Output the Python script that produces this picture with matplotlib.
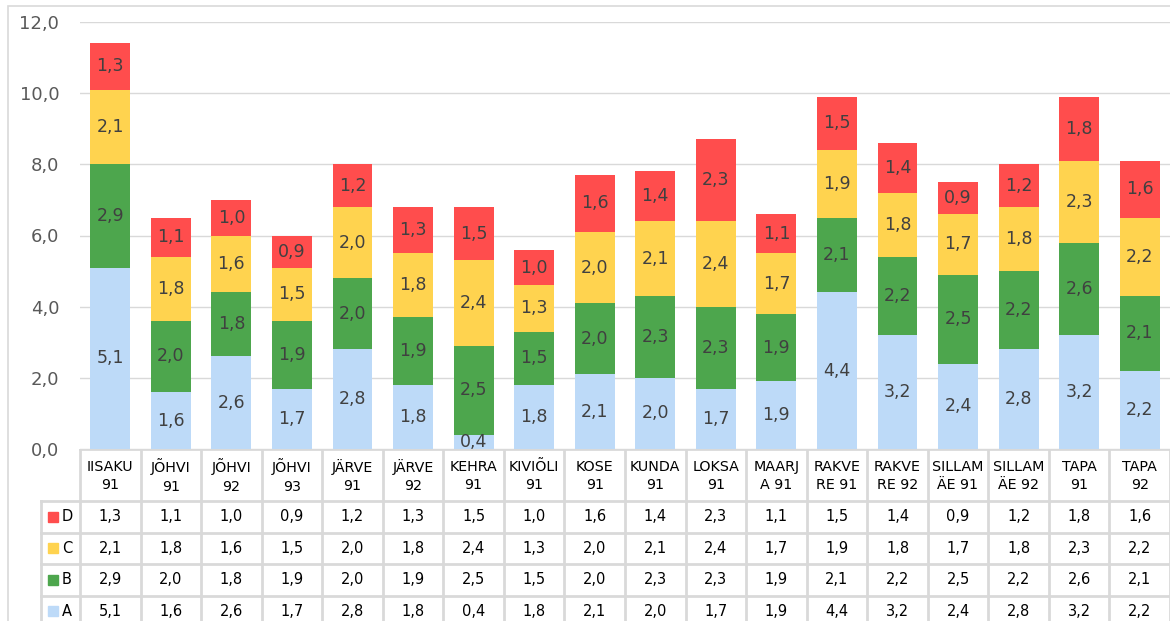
import numpy as np
from matplotlib import pyplot as plt
from matplotlib.patches import Rectangle

categories = ["IISAKU\n91", "JÕHVI\n91", "JÕHVI\n92", "JÕHVI\n93", "JÄRVE\n91",
              "JÄRVE\n92", "KEHRA\n91", "KIVIÕLI\n91", "KOSE\n91", "KUNDA\n91",
              "LOKSA\n91", "MAARJ\nA 91", "RAKVE\nRE 91", "RAKVE\nRE 92",
              "SILLAM\nÄE 91", "SILLAM\nÄE 92", "TAPA\n91", "TAPA\n92"]
a_vals = [5.1, 1.6, 2.6, 1.7, 2.8, 1.8, 0.4, 1.8, 2.1, 2.0, 1.7, 1.9, 4.4, 3.2, 2.4, 2.8, 3.2, 2.2]
b_vals = [2.9, 2.0, 1.8, 1.9, 2.0, 1.9, 2.5, 1.5, 2.0, 2.3, 2.3, 1.9, 2.1, 2.2, 2.5, 2.2, 2.6, 2.1]
c_vals = [2.1, 1.8, 1.6, 1.5, 2.0, 1.8, 2.4, 1.3, 2.0, 2.1, 2.4, 1.7, 1.9, 1.8, 1.7, 1.8, 2.3, 2.2]
d_vals = [1.3, 1.1, 1.0, 0.9, 1.2, 1.3, 1.5, 1.0, 1.6, 1.4, 2.3, 1.1, 1.5, 1.4, 0.9, 1.2, 1.8, 1.6]
series_names = ["A", "B", "C", "D"]
yticks = [0, 2, 4, 6, 8, 10, 12]

colors = {"A": "#BDDAF8", "B": "#4DA64D", "C": "#FFD34F", "D": "#FF4D4D"}
grid_c = "#D9D9D9"
text_c = "#404040"

W, H = 1170, 621
fig = plt.figure(figsize=(W / 100, H / 100), dpi=100)
plt.rcParams['font.family'] = ['DejaVu Sans']

# outer frame
fig.patches.append(Rectangle((8 / W, -0.1), 1.2, (H - 6) / H + 0.1, transform=fig.transFigure,
                             fill=False, edgecolor=grid_c, lw=1.2))

left, right = 80, 1170
y0, y12 = 449, 22
ax = fig.add_axes([left / W, (H - y0) / H, (right - left) / W, (y0 - y12) / H])
ax.set_xlim(-0.5, len(categories) - 0.5)
ax.set_ylim(0, 12)
for s in ax.spines.values():
    s.set_visible(False)
ax.set_yticks(yticks)
ax.set_yticklabels([f"{v:.1f}".replace(".", ",") for v in yticks], color="#595959", fontsize=13)
ax.tick_params(axis="y", length=0, pad=15)
ax.set_xticks([])
ax.grid(axis="y", color=grid_c, lw=1.0)
ax.set_axisbelow(True)

x = np.arange(len(categories))
data = {"A": a_vals, "B": b_vals, "C": c_vals, "D": d_vals}
bottom = np.zeros(len(categories))
for name in series_names:
    vals = np.array(data[name])
    ax.bar(x, vals, 0.66, bottom=bottom, color=colors[name], zorder=2)
    for xi, v, b in zip(x, vals, bottom):
        ax.text(xi, b + v / 2, f"{v:.1f}".replace(".", ","), ha="center", va="center",
                fontsize=12.5, color=text_c, zorder=3, clip_on=False)
    bottom += vals

# data table
tab = fig.add_axes([0, 0, 1, (H - y0) / H])
tab.set_xlim(0, W)
tab.set_ylim(H, y0)
tab.axis("off")
ncol = len(categories)
colw = (right - left) / ncol
rows_y = [501, 532.5, 564, 595.5, 627]
lw = 2
tab.plot([left, right], [y0, y0], color=grid_c, lw=lw)
for yy in rows_y[:-1]:
    tab.plot([41, right], [yy, yy], color=grid_c, lw=lw)
for k in range(ncol + 1):
    tab.plot([left + k * colw] * 2, [y0, H], color=grid_c, lw=lw)
tab.plot([41, 41], [rows_y[0], H], color=grid_c, lw=lw)

for k, cat in enumerate(categories):
    tab.text(left + (k + 0.5) * colw, (y0 + rows_y[0]) / 2 + 1, cat, ha="center", va="center",
             fontsize=10.3, color="black", linespacing=1.45)

for r, name in enumerate(reversed(series_names)):
    yc = (rows_y[r] + rows_y[r + 1]) / 2
    tab.add_patch(Rectangle((48, yc - 5), 10, 10, color=colors[name]))
    tab.text(62, yc, name, ha="left", va="center", fontsize=10.5, color="black")
    for k, v in enumerate(data[name]):
        tab.text(left + (k + 0.5) * colw, yc, f"{v:.1f}".replace(".", ","), ha="center",
                 va="center", fontsize=10.5, color="black")

fig.savefig("out.png", dpi=100)
